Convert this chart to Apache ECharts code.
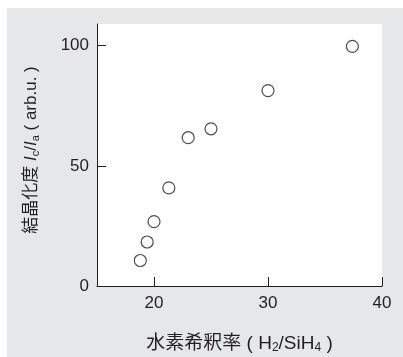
<!DOCTYPE html>
<html>
<head>
<meta charset="utf-8">
<script src="https://cdn.jsdelivr.net/npm/echarts@6/dist/echarts.min.js"></script>
<style>
html, body { margin: 0; padding: 0; background: #ffffff; }
#chart { width: 403px; height: 357px; }
</style>
</head>
<body>
<div id="chart"></div>
<script>
// Hydrogen dilution ratio (H2/SiH4) vs. crystallinity Ic/Ia
const dilutionRatio = [18.8, 19.4, 20.0, 21.3, 23.0, 25.0, 30.0, 37.4];
const crystallinity = [10.6, 18.3, 26.8, 40.8, 61.7, 65.4, 81.3, 99.7];
const xTicks = [20, 30, 40];
const yTicks = [0, 50, 100];

const points = dilutionRatio.map((x, i) => [x, crystallinity[i]]);

const textColor = '#231f20';
const fontFamily = '"Liberation Sans", Arial, "Noto Sans CJK JP", sans-serif';
const xNameSize = 19;
const yNameSize = 17;

const chart = echarts.init(document.getElementById('chart'), null, { renderer: 'canvas' });

chart.setOption({
  backgroundColor: '#ffffff',
  animation: false,
  graphic: [
    {
      type: 'rect',
      z: -10,
      shape: { x: 7, y: 8, width: 396, height: 349 },
      style: { fill: '#e6e7e9' }
    }
  ],
  grid: {
    left: 97, right: 21, top: 24, bottom: 71,
    outerBoundsMode: 'none',
    containLabel: false,
    show: true, backgroundColor: '#ffffff', borderWidth: 0
  },
  xAxis: {
    type: 'value',
    min: 15, max: 40,
    splitLine: { show: false },
    axisLine: { show: true, lineStyle: { color: textColor, width: 1 } },
    axisTick: { show: true, inside: true, length: 9, customValues: xTicks, lineStyle: { color: textColor, width: 1 } },
    axisLabel: { customValues: xTicks, color: textColor, fontSize: 17, fontFamily: fontFamily, margin: 9 },
    name: '水素希釈率 ( {s|H}{sub|2}{s|/SiH}{sub|4}{s| )}',
    nameLocation: 'middle',
    nameGap: 47,
    nameTextStyle: {
      color: textColor, fontSize: xNameSize, fontFamily: fontFamily,
      rich: {
        s: { fontSize: xNameSize, fontFamily: fontFamily, color: textColor },
        sub: { fontSize: 12, fontFamily: fontFamily, color: textColor, verticalAlign: 'bottom', padding: [9, 0, 0, 0] }
      }
    }
  },
  yAxis: {
    type: 'value',
    min: 0, max: 109,
    splitLine: { show: false },
    axisLine: { show: true, lineStyle: { color: textColor, width: 1 } },
    axisTick: { show: true, inside: true, length: 9, customValues: yTicks, lineStyle: { color: textColor, width: 1 } },
    axisLabel: { customValues: yTicks, color: textColor, fontSize: 17, fontFamily: fontFamily, margin: 8 },
    name: '結晶化度 {it|I}{sub|c}{s|/}{it|I}{sub|a}{s| ( arb.u. )}',
    nameLocation: 'middle',
    nameRotate: 90,
    nameGap: 56,
    nameTextStyle: {
      color: textColor, fontSize: yNameSize, fontFamily: fontFamily,
      padding: [0, 0, 0, 10],
      rich: {
        s: { fontSize: yNameSize, fontFamily: fontFamily, color: textColor },
        it: { fontSize: yNameSize, fontFamily: fontFamily, fontStyle: 'italic', color: textColor },
        sub: { fontSize: 11, fontFamily: fontFamily, color: textColor, verticalAlign: 'bottom', padding: [9, 0, 0, 0] }
      }
    }
  },
  series: [
    {
      type: 'scatter',
      data: points,
      symbol: 'circle',
      symbolSize: 12,
      itemStyle: { color: '#ffffff', borderColor: textColor, borderWidth: 1.2 }
    }
  ]
});
</script>
</body>
</html>
